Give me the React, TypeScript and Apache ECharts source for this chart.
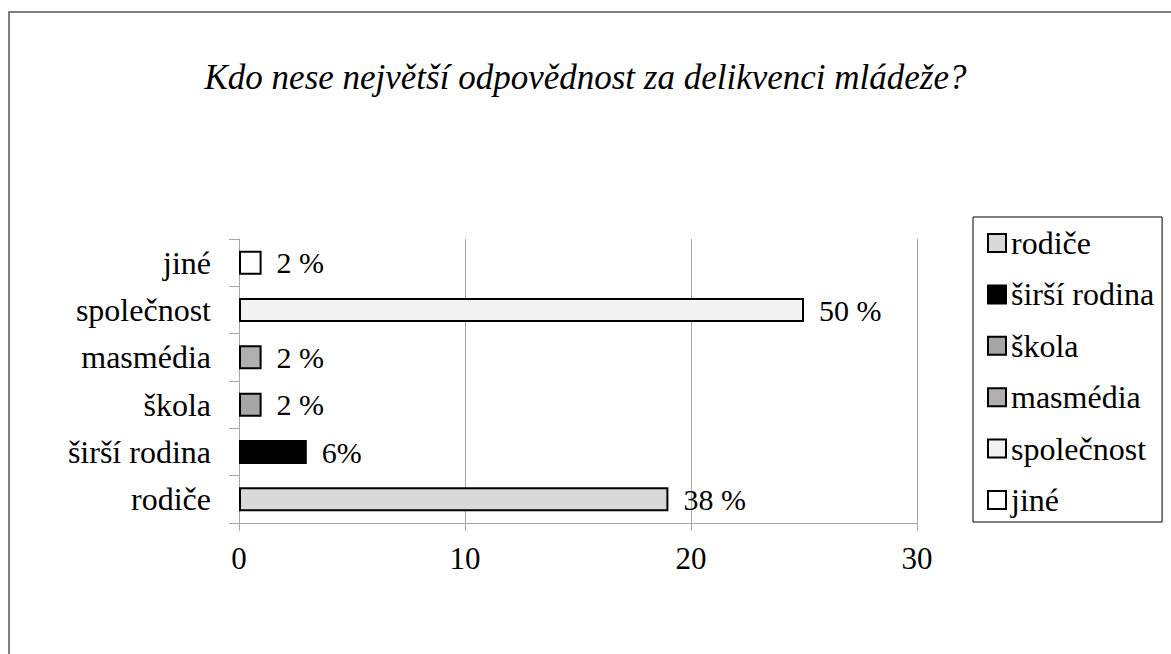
import React, { useEffect, useRef } from "react";
import * as echarts from "echarts";

const titleText = "Kdo nese největší odpovědnost za delikvenci mládeže?";
const categories = ["rodiče", "širší rodina", "škola", "masmédia", "společnost", "jiné"];
const values = [19, 3, 1, 1, 25, 1];
const labelTexts = ["38 %", "6%", "2 %", "2 %", "50 %", "2 %"];
const colors = ["#d9d9d9", "#000000", "#a6a6a6", "#b2aeae", "#f2f2f2", "#ffffff"];
const xTicks = { min: 0, max: 30, interval: 10 };

const FONT = "Liberation Serif";

export default function App() {
  const ref = useRef<HTMLDivElement>(null);
  useEffect(() => {
    if (!ref.current) return;
    const chart = echarts.init(ref.current, null, { renderer: "svg" });
    const series = categories.map((name, i) => ({
      name,
      type: "bar",
      stack: "all",
      barWidth: 24,
      data: values.map((v, j) => (j === i ? v : "-")),
      itemStyle: { color: colors[i], borderColor: "#000", borderWidth: 2 },
      label: {
        show: true,
        position: "right",
        distance: 15,
        formatter: (p: any) => labelTexts[p.dataIndex],
        color: "#000",
        fontSize: 30,
        fontFamily: FONT,
      },
    }));
    chart.setOption({
      animation: false,
      backgroundColor: "#fff",
      textStyle: { fontFamily: FONT },
      title: {
        text: titleText,
        left: "center",
        top: 55,
        textStyle: { fontSize: 35, fontStyle: "italic", fontWeight: "normal", fontFamily: FONT, color: "#000" },
      },
      graphic: [
        {
          type: "rect",
          shape: { x: 9, y: 12, width: 1200, height: 700 },
          style: { fill: "none", stroke: "#555", lineWidth: 1.5 },
          silent: true,
        },
      ],
      legend: {
        orient: "vertical",
        left: 973,
        top: 217,
        data: categories,
        icon: "rect",
        itemWidth: 18,
        itemHeight: 18,
        itemGap: 19.4,
        padding: [10, 8, 6, 14],
        borderColor: "#000",
        borderWidth: 1,
        itemStyle: { borderColor: "#000", borderWidth: 2 },
        textStyle: { fontSize: 32, fontFamily: FONT, color: "#000" },
        selectedMode: false,
      },
      grid: { left: 239, right: 254, top: 239, bottom: 131, containLabel: false },
      xAxis: {
        type: "value",
        min: xTicks.min,
        max: xTicks.max,
        interval: xTicks.interval,
        axisLine: { show: true, lineStyle: { color: "#a6a6a6", width: 1 } },
        axisTick: { show: true, length: 8, lineStyle: { color: "#a6a6a6" } },
        splitLine: { show: true, lineStyle: { color: "#a6a6a6", width: 1 } },
        axisLabel: { margin: 20, fontSize: 31, fontFamily: FONT, color: "#000" },
      },
      yAxis: {
        type: "category",
        data: categories,
        axisLine: { show: true, lineStyle: { color: "#a6a6a6", width: 1 } },
        axisTick: { show: true, length: 10, lineStyle: { color: "#a6a6a6" } },
        axisLabel: { margin: 28, fontSize: 32, fontFamily: FONT, color: "#000" },
      },
      series,
    });
    return () => chart.dispose();
  }, []);
  return (
    <div
      ref={ref}
      style={{ position: "absolute", left: 0, top: 0, width: 1171, height: 654, overflow: "hidden" }}
    />
  );
}
